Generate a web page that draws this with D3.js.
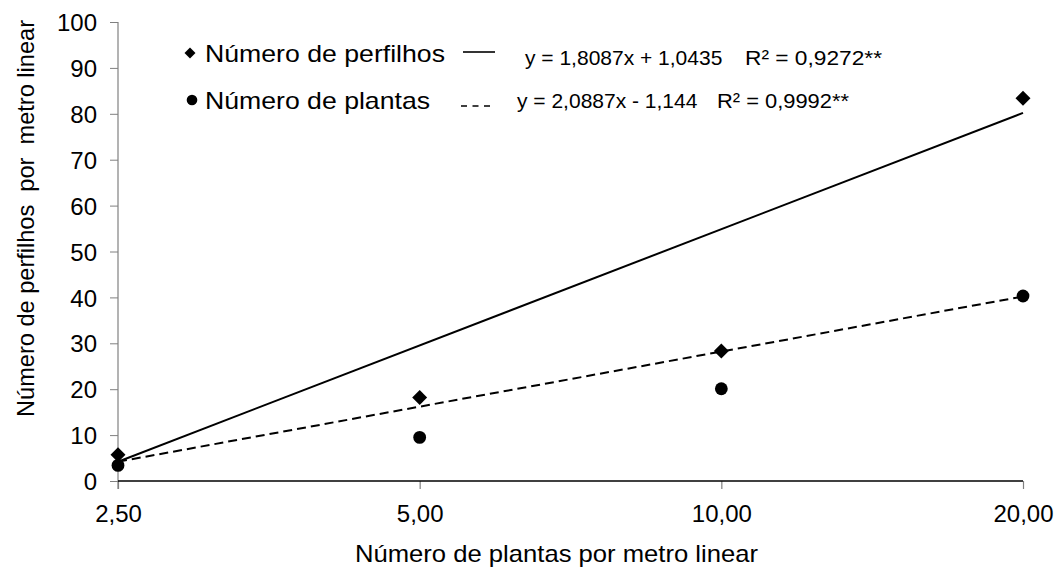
<!DOCTYPE html>
<html>
<head>
<meta charset="utf-8">
<script src="https://cdn.jsdelivr.net/npm/d3@7"></script>
<style>
  html, body { margin: 0; padding: 0; background: #fff; }
  svg { display: block; }
  text { font-family: Arial, "Liberation Sans", sans-serif; fill: #000; }
</style>
</head>
<body>
<svg id="chart" width="1062" height="568"></svg>
<script>
// Plant density categories (plants per linear metre)
const categories = ["2,50", "5,00", "10,00", "20,00"];
// Tillers per linear metre
const tillers = [5.7, 18.2, 28.3, 83.4];
// Plants per linear metre
const plants = [3.4, 9.5, 20.1, 40.3];
// Fitted trend lines: value at first and last category
const tillerTrend = [4.2, 80.2];
const plantTrend = [4.2, 40.2];
const yTicks = [0, 10, 20, 30, 40, 50, 60, 70, 80, 90, 100];
const equations = [
  { eq: "y = 1,8087x + 1,0435", r2: "R² = 0,9272**" },
  { eq: "y = 2,0887x - 1,144", r2: "R² = 0,9992**" }
];

const svg = d3.select("#chart");
const x = d3.scalePoint().domain(categories).range([118, 1023]);
const y = d3.scaleLinear().domain([0, 100]).range([481, 22]);

// Y axis (grey line, ticks to the left)
const yAxis = svg.append("g").attr("transform", "translate(118,0)")
  .call(d3.axisLeft(y).tickValues(yTicks).tickSize(8).tickPadding(13).tickSizeOuter(0));
yAxis.select(".domain").remove();
yAxis.selectAll(".tick line").attr("stroke", "#808080").attr("stroke-width", 1);
yAxis.selectAll(".tick text").style("font-size", "24px").attr("dy", "0.36em");
svg.append("line").attr("x1", 118).attr("x2", 118)
  .attr("y1", y(100)).attr("y2", 489).attr("stroke", "#808080").attr("stroke-width", 1.2);

// X axis (black baseline, grey ticks downward)
const xAxis = svg.append("g").attr("transform", `translate(0,${y(0)})`)
  .call(d3.axisBottom(x).tickSize(8).tickPadding(16).tickSizeOuter(0));
xAxis.select(".domain").remove();
xAxis.selectAll(".tick line").attr("stroke", "#808080").attr("stroke-width", 1.2);
xAxis.selectAll(".tick text").style("font-size", "24px").attr("dy", "0.71em");
svg.append("line").attr("x1", 118).attr("x2", 1023)
  .attr("y1", y(0)).attr("y2", y(0)).attr("stroke", "#000").attr("stroke-width", 1.6);

// Trend lines
const ends = [categories[0], categories[categories.length - 1]];
const line = d3.line().x(d => x(d[0])).y(d => y(d[1]));
svg.append("path")
  .attr("d", line(ends.map((c, i) => [c, tillerTrend[i]])))
  .attr("fill", "none").attr("stroke", "#000").attr("stroke-width", 2);
svg.append("path")
  .attr("d", line(ends.map((c, i) => [c, plantTrend[i]])))
  .attr("fill", "none").attr("stroke", "#000").attr("stroke-width", 2)
  .attr("stroke-dasharray", "9,5");

// Markers
const diamond = d3.symbol().type(d3.symbolSquare).size(112);
svg.append("g").selectAll("path").data(tillers).join("path")
  .attr("d", diamond)
  .attr("transform", (d, i) => `translate(${x(categories[i])},${y(d)}) rotate(45)`)
  .attr("fill", "#000");
svg.append("g").selectAll("circle").data(plants).join("circle")
  .attr("cx", (d, i) => x(categories[i])).attr("cy", d => y(d))
  .attr("r", 6.4).attr("fill", "#000");

// Legend
const legend = svg.append("g");
legend.append("path")
  .attr("d", d3.symbol().type(d3.symbolSquare).size(60))
  .attr("transform", "translate(190,53) rotate(45)").attr("fill", "#000");
legend.append("text").attr("x", 205).attr("y", 62)
  .attr("textLength", 240).attr("lengthAdjust", "spacingAndGlyphs")
  .style("font-size", "24px").text("Número de perfilhos");
legend.append("line").attr("x1", 463).attr("x2", 495).attr("y1", 52).attr("y2", 52)
  .attr("stroke", "#000").attr("stroke-width", 1.6);
legend.append("circle").attr("cx", 192).attr("cy", 100).attr("r", 5.3).attr("fill", "#000");
legend.append("text").attr("x", 205).attr("y", 109)
  .attr("textLength", 225).attr("lengthAdjust", "spacingAndGlyphs")
  .style("font-size", "24px").text("Número de plantas");
legend.append("line").attr("x1", 461).attr("x2", 494).attr("y1", 106).attr("y2", 106)
  .attr("stroke", "#000").attr("stroke-width", 1.6).attr("stroke-dasharray", "6,5.5");

// Regression equations
const eqPos = [
  { x: 525, y: 65, rx: 745, rw: 137 },
  { x: 517, y: 108, rx: 717, rw: 132 }
];
equations.forEach((e, i) => {
  svg.append("text").attr("x", eqPos[i].x).attr("y", eqPos[i].y)
    .style("font-size", "21px").text(e.eq);
  svg.append("text").attr("x", eqPos[i].rx).attr("y", eqPos[i].y)
    .attr("textLength", eqPos[i].rw).attr("lengthAdjust", "spacingAndGlyphs")
    .style("font-size", "21px").text(e.r2);
});

// Axis titles
svg.append("text").attr("x", 355).attr("y", 562)
  .attr("textLength", 403).attr("lengthAdjust", "spacingAndGlyphs")
  .style("font-size", "24px").text("Número de plantas por metro linear");
svg.append("text")
  .attr("transform", "translate(34,417) rotate(-90)")
  .attr("textLength", 397).attr("lengthAdjust", "spacingAndGlyphs")
  .style("font-size", "24px").style("white-space", "pre")
  .text("Número de perfilhos  por  metro linear");
</script>
</body>
</html>
